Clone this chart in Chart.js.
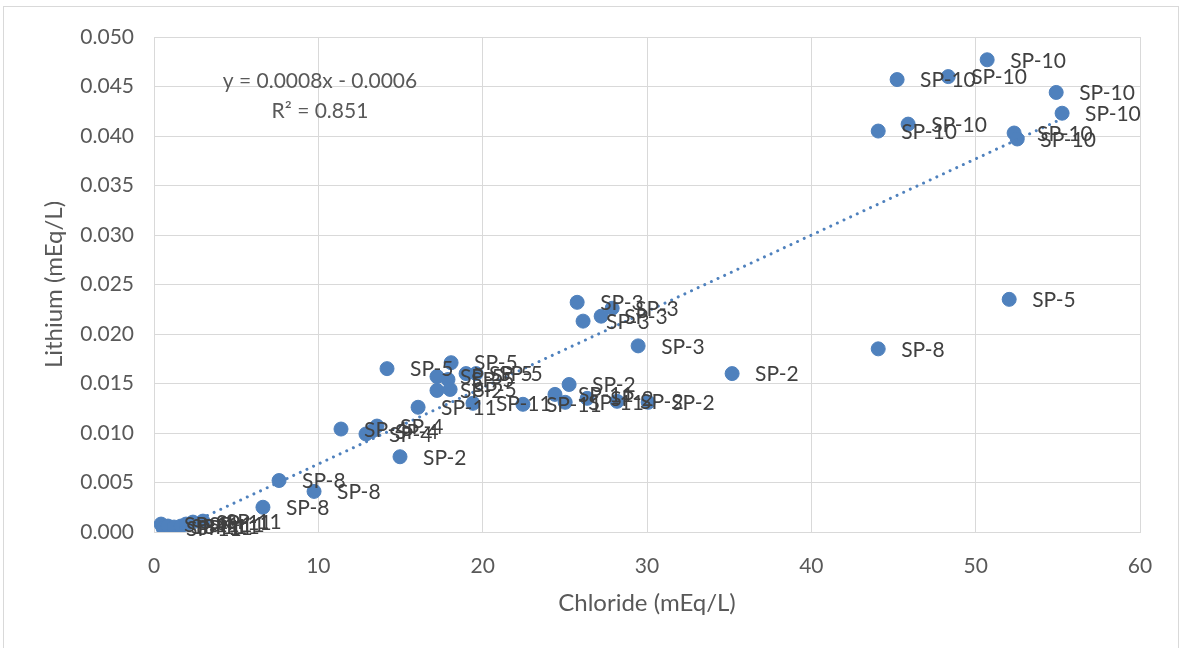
<!DOCTYPE html>
<html lang="en">
<head>
    <meta charset="UTF-8">
    <title>Lithium vs Chloride</title>
    <script src="https://cdn.jsdelivr.net/npm/chart.js"></script>
    <style>
        body { margin: 0; background: #fff; }
        #wrap { position: relative; width: 1182px; height: 648px; }
    </style>
</head>
<body>
    <div id="wrap"><canvas id="scatterChart"></canvas></div>

    <script>
        // sample site for each point
        const sampleIds = [
            "SP-10", "SP-10", "SP-10", "SP-10", "SP-10", "SP-10", "SP-10", "SP-10", "SP-10",
            "SP-5", "SP-5", "SP-5", "SP-5", "SP-5", "SP-5", "SP-5", "SP-5",
            "SP-3", "SP-3", "SP-3", "SP-3", "SP-3",
            "SP-2", "SP-2", "SP-2", "SP-2", "SP-2", "SP-2", "SP-2",
            "SP-8", "SP-8", "SP-8", "SP-8",
            "SP-4", "SP-4", "SP-4", "SP-4",
            "SP-11", "SP-11", "SP-11", "SP-11", "SP-11",
            "SP-11", "SP-11", "SP-11", "SP-11", "SP-11", "SP-11", "SP-11", "SP-11"
        ];
        // chloride, mEq/L
        const chloride = [
            50.70, 48.33, 45.22, 54.90, 55.26, 45.89, 44.07, 52.34, 52.53,
            52.04, 14.18, 18.08, 17.22, 17.89, 18.99, 19.60, 18.02,
            25.75, 26.11, 27.21, 27.88, 29.46,
            35.18, 25.26, 26.36, 28.18, 30.07, 14.97, 17.22,
            44.07, 7.61, 9.74, 6.63,
            11.38, 13.27, 13.57, 12.90,
            16.07, 19.41, 22.45, 24.40, 25.02,
            0.43, 0.55, 0.85, 1.22, 1.64, 1.95, 2.37, 2.98
        ];
        // lithium, mEq/L
        const lithium = [
            0.0477, 0.0460, 0.0457, 0.0444, 0.0423, 0.0412, 0.0405, 0.0403, 0.0397,
            0.0235, 0.0165, 0.0171, 0.0157, 0.0154, 0.0160, 0.0160, 0.0144,
            0.0232, 0.0213, 0.0218, 0.0226, 0.0188,
            0.0160, 0.0149, 0.0135, 0.0132, 0.0131, 0.0076, 0.0143,
            0.0185, 0.0052, 0.0041, 0.0025,
            0.0104, 0.0102, 0.0107, 0.0099,
            0.0126, 0.0130, 0.0129, 0.0139, 0.0131,
            0.0008, 0.0004, 0.0006, 0.0005, 0.0006, 0.0008, 0.0010, 0.0011
        ];
        const xTicks = { min: 0, max: 60, step: 10 };
        const yTicks = { min: 0, max: 0.05, step: 0.005 };
        const trendText = ["y = 0.0008x - 0.0006", "R\u00b2 = 0.851"];
        const trendTextAt = { x: 10.1, y: 0.0455 };

        const points = chloride.map((x, i) => ({ x: x, y: lithium[i] }));

        // least squares line through the samples, drawn across the data range
        const n = points.length;
        let sx = 0, sy = 0, sxy = 0, sxx = 0;
        points.forEach(p => { sx += p.x; sy += p.y; sxy += p.x * p.y; sxx += p.x * p.x; });
        const slope = (n * sxy - sx * sy) / (n * sxx - sx * sx);
        const intercept = (sy - slope * sx) / n;
        const xLo = Math.min(...chloride), xHi = Math.max(...chloride);
        const trendPoints = [
            { x: xLo, y: slope * xLo + intercept },
            { x: xHi, y: slope * xHi + intercept }
        ];

        const BLUE = "#4F81BD";
        const GRID = "#d9d9d9";
        const TEXT = "#595959";
        const FONT = "Lato, 'Open Sans', sans-serif";

        const framePlugin = {
            id: "frame",
            beforeDraw(chart) {
                const c = chart.ctx;
                c.save();
                c.fillStyle = "#fff";
                c.fillRect(0, 0, chart.width, chart.height);
                c.strokeStyle = GRID;
                c.lineWidth = 1;
                c.strokeRect(3.5, 6.5, chart.width - 7, chart.height + 10);
                c.restore();
            }
        };

        const pointLabelPlugin = {
            id: "pointLabels",
            afterDatasetsDraw(chart) {
                const c = chart.ctx;
                const meta = chart.getDatasetMeta(1);
                c.save();
                c.font = "21px " + FONT;
                c.fillStyle = "#404040";
                c.textAlign = "left";
                c.textBaseline = "middle";
                meta.data.forEach((el, i) => {
                    c.fillText(sampleIds[i], el.x + 23, el.y + 1);
                });
                c.restore();
            },
            afterDraw(chart) {
                const c = chart.ctx;
                const px = chart.scales.x.getPixelForValue(trendTextAt.x);
                const py = chart.scales.y.getPixelForValue(trendTextAt.y);
                c.save();
                c.font = "21px " + FONT;
                c.fillStyle = TEXT;
                c.textAlign = "center";
                c.textBaseline = "middle";
                c.fillText(trendText[0], px, py);
                c.fillText(trendText[1], px, py + 30);
                c.restore();
            }
        };

        Chart.defaults.font.family = FONT;
        Chart.defaults.color = TEXT;

        new Chart(document.getElementById("scatterChart"), {
            type: "scatter",
            data: {
                datasets: [
                    {
                        type: "line",
                        label: "Linear trend",
                        data: trendPoints,
                        borderColor: BLUE,
                        borderWidth: 3,
                        borderDash: [0.01, 7.3],
                        borderCapStyle: "round",
                        pointRadius: 0,
                        fill: false,
                        order: 0
                    },
                    {
                        label: "Lithium",
                        data: points,
                        backgroundColor: BLUE,
                        borderColor: BLUE,
                        borderWidth: 1,
                        pointRadius: 7,
                        order: 1
                    }
                ]
            },
            options: {
                responsive: true,
                maintainAspectRatio: false,
                animation: false,
                layout: { padding: { left: 0, top: 37, right: 42, bottom: 0 } },
                plugins: {
                    legend: { display: false },
                    tooltip: { enabled: false }
                },
                scales: {
                    x: {
                        type: "linear",
                        min: xTicks.min, max: xTicks.max,
                        afterFit(scale) { scale.height = 116; },
                        grid: { color: GRID, drawTicks: false },
                        border: { color: GRID },
                        ticks: { stepSize: xTicks.step, padding: 22, font: { size: 21 }, color: TEXT },
                        title: {
                            display: true, text: "Chloride (mEq/L)",
                            font: { size: 24 }, color: TEXT,
                            padding: { top: 0, bottom: 30 }
                        }
                    },
                    y: {
                        min: yTicks.min, max: yTicks.max,
                        afterFit(scale) { scale.width = 154; },
                        grid: { color: GRID, drawTicks: false },
                        border: { color: GRID },
                        ticks: {
                            stepSize: yTicks.step, padding: 20, font: { size: 21 }, color: TEXT,
                            callback: v => v.toFixed(3)
                        },
                        title: {
                            display: true, text: "Lithium (mEq/L)",
                            font: { size: 24 }, color: TEXT,
                            padding: { top: 40, bottom: 0 }
                        }
                    }
                }
            },
            plugins: [framePlugin, pointLabelPlugin]
        });
    </script>
</body>
</html>
